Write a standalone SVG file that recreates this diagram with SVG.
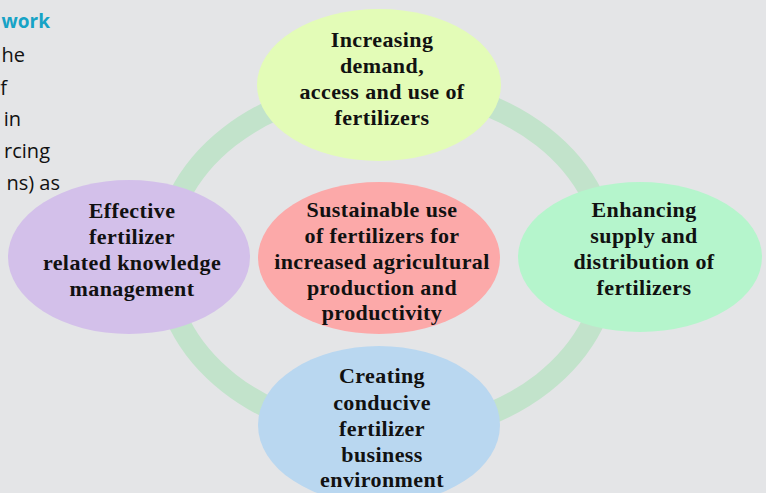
<svg xmlns="http://www.w3.org/2000/svg" width="766" height="493" viewBox="0 0 766 493">
<style>
.bg{fill:#e4e5e7}
.ring{fill:none;stroke:#c2e3cb;stroke-width:22}
.lbl{font-family:"Liberation Serif","Times New Roman",serif;font-weight:bold;font-size:22px;letter-spacing:0.4px;fill:#111;text-anchor:middle}
.side{font-family:"Open Sans","Liberation Sans",sans-serif;font-size:20px;fill:#111;text-anchor:end}
.sideh{font-family:"Open Sans","Liberation Sans",sans-serif;font-size:19px;font-weight:bold;fill:#17a3c6;text-anchor:end}
</style>
<rect class="bg" x="0" y="0" width="766" height="493"/>
<g id="sidetext">
<text class="sideh" x="50" y="28">work</text>
<text class="side" x="25" y="62">he</text>
<text class="side" x="7" y="95">f</text>
<text class="side" x="21" y="126">in</text>
<text class="side" x="50" y="158">rcing</text>
<text class="side" x="60" y="190">ns) as</text>
</g>
<g id="connectors">
<ellipse class="ring" cx="386" cy="260" rx="222" ry="174"/>
</g>
<g id="node-top">
<ellipse cx="379" cy="85" rx="122" ry="76" fill="#e3fcb7"/>
<text class="lbl" x="382" y="47">Increasing</text>
<text class="lbl" x="382" y="73">demand,</text>
<text class="lbl" x="382" y="99">access and use of</text>
<text class="lbl" x="382" y="125">fertilizers</text>
</g>
<g id="node-left">
<ellipse cx="129" cy="257" rx="121" ry="77" fill="#d3c0ea"/>
<text class="lbl" x="132" y="218">Effective</text>
<text class="lbl" x="132" y="244">fertilizer</text>
<text class="lbl" x="132" y="270">related knowledge</text>
<text class="lbl" x="132" y="296">management</text>
</g>
<g id="node-center">
<ellipse cx="379" cy="258" rx="121" ry="76" fill="#fca9a9"/>
<text class="lbl" x="382" y="217">Sustainable use</text>
<text class="lbl" x="382" y="243">of fertilizers for</text>
<text class="lbl" x="382" y="269">increased agricultural</text>
<text class="lbl" x="382" y="295">production and</text>
<text class="lbl" x="382" y="320">productivity</text>
</g>
<g id="node-right">
<ellipse cx="640" cy="257" rx="122" ry="75" fill="#b5f5cc"/>
<text class="lbl" x="644" y="217">Enhancing</text>
<text class="lbl" x="644" y="243">supply and</text>
<text class="lbl" x="644" y="269">distribution of</text>
<text class="lbl" x="644" y="295">fertilizers</text>
</g>
<g id="node-bottom">
<ellipse cx="379" cy="425" rx="121" ry="79" fill="#b9d7f0"/>
<text class="lbl" x="382" y="383">Creating</text>
<text class="lbl" x="382" y="410">conducive</text>
<text class="lbl" x="382" y="436">fertilizer</text>
<text class="lbl" x="382" y="462">business</text>
<text class="lbl" x="382" y="487">environment</text>
</g>
</svg>
